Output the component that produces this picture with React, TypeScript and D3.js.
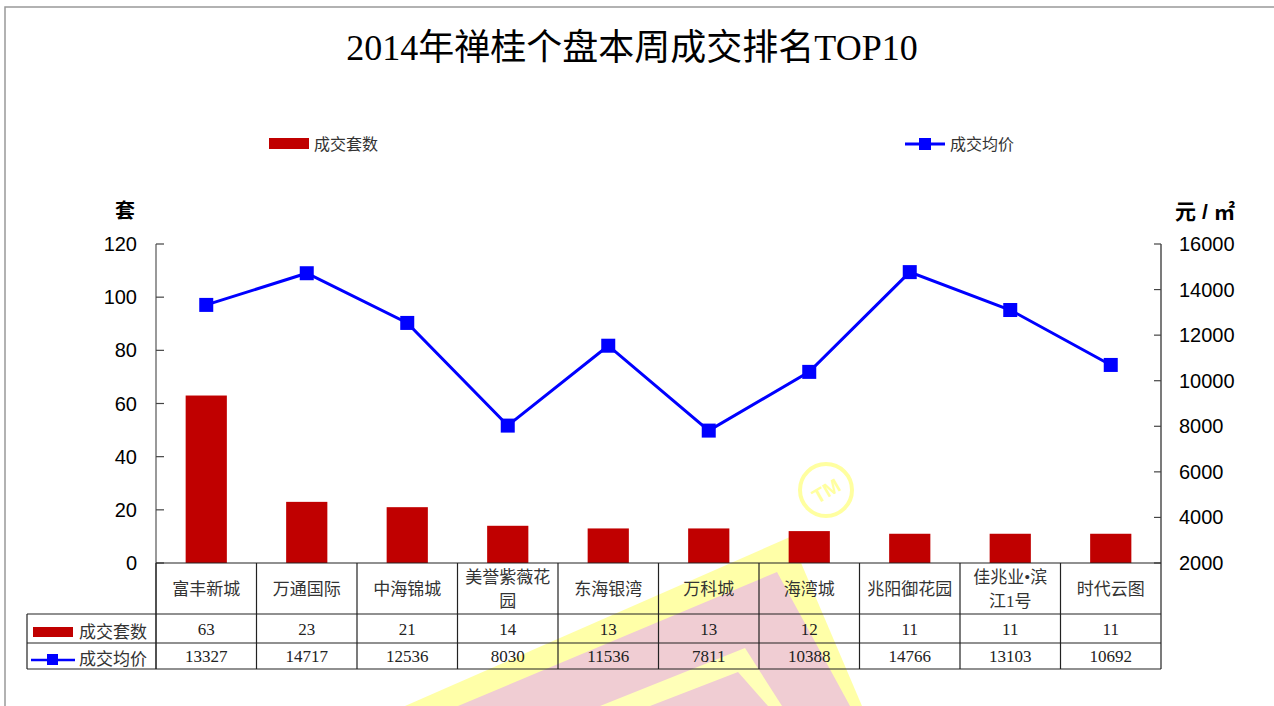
import React from "react";
import * as d3 from "d3";

const categories = ["富丰新城", "万通国际", "中海锦城", "美誉紫薇花园", "东海银湾", "万科城", "海湾城", "兆阳御花园", "佳兆业•滨江1号", "时代云图"];
const units = [63, 23, 21, 14, 13, 13, 12, 11, 11, 11];
const prices = [13327, 14717, 12536, 8030, 11536, 7811, 10388, 14766, 13103, 10692];
const leftTicks = [0, 20, 40, 60, 80, 100, 120];
const rightTicks = [2000, 4000, 6000, 8000, 10000, 12000, 14000, 16000];
const title = "2014年禅桂个盘本周成交排名TOP10";
const seriesBar = "成交套数";
const seriesLine = "成交均价";

const W = 1274, H = 706;
const X0 = 156, X1 = 1161, Y0 = 563, Y1 = 244;
const ROW1 = 614, ROW2 = 643, ROW3 = 669, TL = 27;
const SERIF = "'Liberation Serif', 'Noto Sans CJK SC', serif";
const SANS = "'Liberation Sans', Arial, 'Noto Sans CJK SC', sans-serif";
const BAR = "#C00000";
const LINE = "#0000FF";

function wrap(s: string, n: number): string[] {
  const chars = Array.from(s);
  const out: string[] = [];
  for (let i = 0; i < chars.length; i += n) out.push(chars.slice(i, i + n).join(""));
  return out;
}

export default function App() {
  const x = d3.scaleBand<string>().domain(categories).range([X0, X1]).paddingInner(0.59).paddingOuter(0.295);
  const band = d3.scaleBand<string>().domain(categories).range([X0, X1]);
  const yL = d3.scaleLinear().domain([0, 120]).range([Y0, Y1]);
  const yR = d3.scaleLinear().domain([2000, 16000]).range([Y0, Y1]);
  const cx = (c: string) => (band(c) as number) + band.bandwidth() / 2;
  const linePath = d3.line<number>().x((_, i) => cx(categories[i])).y((d) => yR(d))(prices) || "";
  const ms = 14;

  return (
    <svg width={W} height={H} style={{ position: "absolute", left: 0, top: 0, background: "#fff" }}>
      <rect x={0} y={0} width={W} height={H} fill="#fff" />
      {/* watermark */}
      <g>
        <polygon points="405,706 790,537 862,706" fill="#FFFFA8" />
        <polygon points="458,706 777,572 850,706" fill="#F0CDD3" />
        <polygon points="600,706 745,648 782,706" fill="#FFFFB8" />
        <polygon points="650,706 738,672 768,706" fill="#F0CDD3" />
        <circle cx={826} cy={490} r={26} fill="none" stroke="#FFFFA0" strokeWidth={4} />
        <text x={826} y={498} textAnchor="middle" fontFamily={SANS} fontSize={20} fontWeight="bold" fill="#FFFFA0" transform="rotate(-30 826 490)">TM</text>
      </g>
      <rect x={5} y={7} width={1300} height={800} fill="none" stroke="#999" strokeWidth={1.5} />

      <text x={632} y={60} textAnchor="middle" fontFamily={SERIF} fontSize={36} fill="#000">{title}</text>

      {/* legend */}
      <rect x={269} y={138} width={40} height={11} fill={BAR} />
      <text x={314} y={150} fontFamily={SERIF} fontSize={16} fill="#333">{seriesBar}</text>
      <line x1={905} x2={945} y1={144} y2={144} stroke={LINE} strokeWidth={3} />
      <rect x={919} y={138} width={12} height={12} fill={LINE} />
      <text x={950} y={150} fontFamily={SERIF} fontSize={16} fill="#333">{seriesLine}</text>

      {/* axis titles */}
      <text x={125} y={218} textAnchor="middle" fontFamily={SANS} fontSize={20} fontWeight="bold" fill="#000">套</text>
      <text x={1175} y={219} fontFamily={SANS} fontSize={21} fontWeight="bold" fill="#000" textLength={60} lengthAdjust="spacing">元/㎡</text>

      {/* bars */}
      {units.map((v, i) => (
        <rect key={i} x={x(categories[i])} y={yL(v)} width={x.bandwidth()} height={Y0 - yL(v)} fill={BAR} />
      ))}

      {/* axes */}
      <line x1={X0} x2={X0} y1={Y1} y2={ROW3} stroke="#555" strokeWidth={1.2} />
      <line x1={X1} x2={X1} y1={Y1} y2={ROW3} stroke="#222" strokeWidth={1.2} />
      {leftTicks.map((t) => (
        <g key={t}>
          <line x1={X0} x2={X0 + 8} y1={yL(t)} y2={yL(t)} stroke="#444" strokeWidth={1.2} />
          <text x={137} y={yL(t) + 7} textAnchor="end" fontFamily={SANS} fontSize={20} fill="#000">{t}</text>
        </g>
      ))}
      {rightTicks.map((t) => (
        <g key={t}>
          <line x1={X1 - 7} x2={X1} y1={yR(t)} y2={yR(t)} stroke="#444" strokeWidth={1.2} />
          <text x={1179} y={yR(t) + 7} fontFamily={SANS} fontSize={20} fill="#000">{t}</text>
        </g>
      ))}

      {/* line */}
      <path d={linePath} fill="none" stroke={LINE} strokeWidth={3} />
      {prices.map((v, i) => (
        <rect key={i} x={cx(categories[i]) - ms / 2} y={yR(v) - ms / 2} width={ms} height={ms} fill={LINE} />
      ))}

      {/* table */}
      <g stroke="#222" strokeWidth={1.2}>
        <line x1={X0} x2={X1} y1={Y0} y2={Y0} />
        <line x1={TL} x2={X1} y1={ROW1} y2={ROW1} />
        <line x1={TL} x2={X1} y1={ROW2} y2={ROW2} />
        <line x1={TL} x2={X1} y1={ROW3} y2={ROW3} />
        <line x1={TL} x2={TL} y1={ROW1} y2={ROW3} />
        {categories.map((c, i) => (
          <line key={i} x1={band(c) as number} x2={band(c) as number} y1={Y0} y2={ROW3} />
        ))}
      </g>
      {categories.map((c, i) => {
        const lines = wrap(c, 5);
        const mid = (Y0 + ROW1) / 2;
        const lh = 24;
        const start = mid - ((lines.length - 1) * lh) / 2 + 6;
        return (
          <text key={i} x={cx(c)} textAnchor="middle" fontFamily={SERIF} fontSize={17} fill="#333">
            {lines.map((l, j) => (
              <tspan key={j} x={cx(c)} y={start + j * lh}>{l}</tspan>
            ))}
          </text>
        );
      })}
      {units.map((v, i) => (
        <text key={i} x={cx(categories[i])} y={635} textAnchor="middle" fontFamily={SERIF} fontSize={17} fill="#222">{v}</text>
      ))}
      {prices.map((v, i) => (
        <text key={i} x={cx(categories[i])} y={662} textAnchor="middle" fontFamily={SERIF} fontSize={17} fill="#222">{v}</text>
      ))}
      <rect x={33} y={627} width={40} height={10} fill={BAR} />
      <text x={79} y={638} fontFamily={SERIF} fontSize={17} fill="#333">{seriesBar}</text>
      <line x1={31} x2={75} y1={660} y2={660} stroke={LINE} strokeWidth={2.5} />
      <rect x={47} y={654} width={11} height={11} fill={LINE} />
      <text x={79} y={665} fontFamily={SERIF} fontSize={17} fill="#333">{seriesLine}</text>
    </svg>
  );
}
